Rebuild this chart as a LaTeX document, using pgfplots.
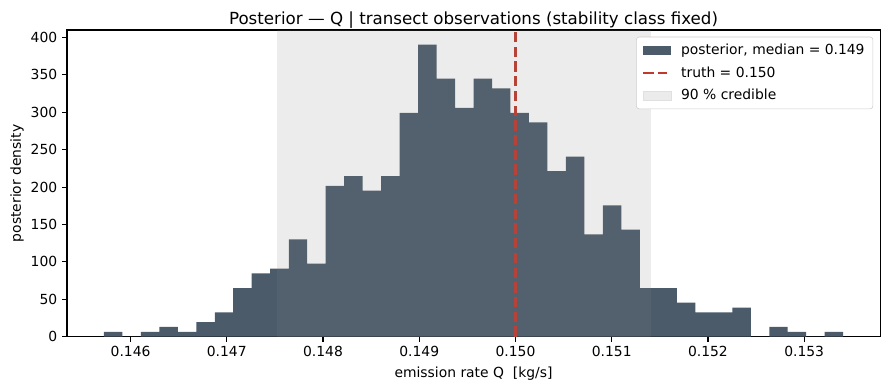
\documentclass[border=0pt]{standalone}
\usepackage{pgfplots}
\pgfplotsset{compat=1.18}
\usepackage{fontspec}
\setmainfont{DejaVu Sans}
\definecolor{barcol}{RGB}{76,91,106}
\definecolor{truthred}{RGB}{192,57,43}
\begin{document}
\begin{tikzpicture}
\useasboundingbox (-48.2pt,-38.4pt) rectangle (591.8pt,242.4pt);
\begin{axis}[
  at={(0,0)}, anchor=south west,
  scale only axis, width=585.4pt, height=220.8pt,
  xmin=0.145339, xmax=0.153789, ymin=0, ymax=410.07,
  axis line style={line width=0.8pt},
  tick align=outside, major tick length=3.5pt,
  tick style={line width=0.8pt, black},
  xtick={0.146,0.147,0.148,0.149,0.150,0.151,0.152,0.153},
  ytick={0,50,100,150,200,250,300,350,400},
  xtick pos=bottom, ytick pos=left,
  scaled x ticks=false, scaled y ticks=false,
  xticklabel style={/pgf/number format/.cd, fixed, fixed zerofill, precision=3, assume math mode=true},
  yticklabel style={/pgf/number format/.cd, fixed, assume math mode=true},
  ticklabel style={font=\fontsize{10}{12}\selectfont},
  title={Posterior — Q | transect observations (stability class fixed)},
  title style={font=\fontsize{12}{14}\selectfont, at={(axis description cs:0.5,1)}, anchor=south, yshift=-8.5pt},
  xlabel={emission rate Q\ \ [kg/s]},
  ylabel={posterior density},
  xlabel style={font=\fontsize{10}{12}\selectfont, at={(axis description cs:0.5,-0.12)}, anchor=center},
  ylabel style={font=\fontsize{10}{12}\selectfont, at={(axis description cs:-0.0615,0.5)}, anchor=center},
  legend style={at={(axis description cs:0.9915,0.978)}, anchor=north east, draw=black!20, rounded corners=2pt, fill=white, font=\fontsize{10}{12}\selectfont, row sep=3.2pt, column sep=5pt, inner xsep=4pt, inner ysep=3pt},
  legend cell align=left,
  clip=true,
]
\addplot[ybar interval, fill=barcol, draw=none, forget plot] coordinates {
(0.145723,6.51) (0.145915,0) (0.146107,6.51) (0.146299,13.02) (0.146491,6.51)
(0.146683,19.53) (0.146875,32.55) (0.147067,65.09) (0.147259,84.62) (0.147451,91.13)
(0.147644,130.18) (0.147836,97.64) (0.148028,201.78) (0.148220,214.80) (0.148412,195.27)
(0.148604,214.80) (0.148796,299.41) (0.148988,390.54) (0.149180,344.98) (0.149372,305.92)
(0.149564,344.98) (0.149756,331.96) (0.149948,299.41) (0.150140,286.40) (0.150332,221.31)
(0.150524,240.83) (0.150716,136.69) (0.150908,175.74) (0.151100,143.20) (0.151292,65.09)
(0.151485,65.09) (0.151677,45.56) (0.151869,32.55) (0.152061,32.55) (0.152253,39.05)
(0.152445,0) (0.152637,13.02) (0.152829,6.51) (0.153021,0) (0.153213,6.51)
(0.153405,0)
};
\addlegendimage{legend image code/.code={\fill[barcol, sharp corners, draw=none] (0pt,-3.4pt) rectangle (20pt,3.4pt);}}
\addlegendentry{posterior, median = 0.149}
\addplot[truthred, line width=2pt, dash pattern=on 7.4pt off 3.2pt] coordinates {(0.150,0) (0.150,410.07)};
\addlegendentry{truth = 0.150}
\addplot[fill=gray, fill opacity=0.15, draw=none, forget plot] coordinates {(0.147517,0) (0.147517,410.07) (0.151403,410.07) (0.151403,0)} -- cycle;
\addlegendimage{legend image code/.code={\fill[fill=black!8, sharp corners, draw=black!12] (0pt,-3.4pt) rectangle (20pt,3.4pt);}}
\addlegendentry{90 \% credible}
\end{axis}
\end{tikzpicture}
\end{document}
